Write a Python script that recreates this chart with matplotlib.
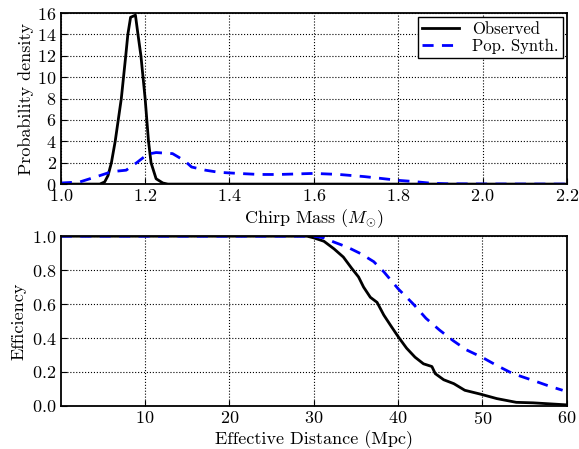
import matplotlib
matplotlib.use("Agg")
import matplotlib.pyplot as plt

plt.rcParams['font.family'] = 'serif'
plt.rcParams['font.serif'] = ['cmr10']
plt.rcParams['mathtext.fontset'] = 'cm'
plt.rcParams['axes.formatter.use_mathtext'] = True

# chirp mass distributions
obs_mass = [1.00, 1.08, 1.0925, 1.104, 1.112, 1.12, 1.129, 1.1435, 1.154, 1.159, 1.1655,
            1.177, 1.183, 1.19, 1.20, 1.208, 1.214, 1.226, 1.242, 1.254, 1.30, 2.2]
obs_dens = [0.0, 0.0, 0.0, 0.2, 0.8, 2.0, 4.0, 8.0, 12.0, 14.0, 15.6,
            15.8, 14.0, 12.0, 8.0, 4.0, 2.0, 0.5, 0.1, 0.0, 0.0, 0.0]

pop_mass = [1.00, 1.045, 1.093, 1.116, 1.13, 1.155, 1.18, 1.206, 1.226, 1.245, 1.265,
            1.28, 1.296, 1.31, 1.343, 1.375, 1.42, 1.47, 1.517, 1.56, 1.60, 1.66,
            1.72, 1.755, 1.80, 1.834, 1.873, 1.913, 2.0, 2.2]
pop_dens = [0.1, 0.2, 0.8, 1.1, 1.2, 1.3, 2.0, 2.8, 2.95, 2.9, 2.85,
            2.5, 2.1, 1.6, 1.3, 1.1, 1.0, 0.9, 0.9, 0.95, 1.0, 0.9,
            0.7, 0.55, 0.35, 0.25, 0.1, 0.03, 0.01, 0.0]

# detection efficiency
obs_dist = [0.0, 28.0, 29.2, 30.0, 31.2, 32.4, 33.5, 34.5, 35.3, 35.9, 36.7, 37.5, 38.3,
            39.2, 40.0, 41.0, 42.0, 43.0, 44.0, 44.4, 45.4, 46.6, 47.9, 49.7, 51.7,
            54.0, 56.0, 58.0, 60.0]
obs_eff = [1.0, 1.0, 1.0, 0.99, 0.97, 0.925, 0.877, 0.81, 0.76, 0.70, 0.64, 0.61, 0.535,
           0.467, 0.408, 0.34, 0.287, 0.248, 0.232, 0.19, 0.154, 0.131, 0.092, 0.07, 0.043,
           0.021, 0.018, 0.012, 0.006]

pop_dist = [0.0, 30.0, 31.2, 32.4, 34.0, 35.6, 37.1, 38.3, 40.0, 41.8, 43.3, 44.9, 46.5,
            48.1, 50.0, 51.7, 53.6, 56.0, 58.0, 59.5]
pop_eff = [1.0, 1.0, 0.99, 0.965, 0.935, 0.896, 0.85, 0.79, 0.69, 0.60, 0.516, 0.447, 0.385,
           0.33, 0.285, 0.238, 0.19, 0.15, 0.115, 0.092]

fig = plt.figure(figsize=(5.79, 4.49), dpi=100)
ax1 = fig.add_axes([0.105, 0.590, 0.874, 0.381])
ax2 = fig.add_axes([0.105, 0.096, 0.874, 0.378])

fs = 13
ax1.plot(obs_mass, obs_dens, color='black', lw=2, label='Observed')
ax1.plot(pop_mass, pop_dens, color='blue', lw=2, ls=(0, (4, 3)), label='Pop. Synth.')
ax1.set_xlim(1.0, 2.2)
ax1.set_ylim(0, 16)
ax1.set_xticks([1.0, 1.2, 1.4, 1.6, 1.8, 2.0, 2.2])
ax1.set_yticks(range(0, 17, 2))
ax1.set_xlabel(r'Chirp Mass ($M_{\odot}$)', fontsize=fs, labelpad=2)
ax1.set_ylabel('Probability density', fontsize=fs, labelpad=2)
leg = ax1.legend(loc='upper right', fontsize=12, fancybox=False, edgecolor='black',
                 framealpha=1, handlelength=2.2, borderpad=0.25, labelspacing=0.1,
                 borderaxespad=0.25)
leg.get_frame().set_linewidth(1.0)

ax2.plot(obs_dist, obs_eff, color='black', lw=2)
ax2.plot(pop_dist, pop_eff, color='blue', lw=2, ls=(0, (4, 3)))
ax2.set_xlim(0, 60)
ax2.set_ylim(0, 1.0)
ax2.set_xticks([10, 20, 30, 40, 50, 60])
ax2.set_yticks([0.0, 0.2, 0.4, 0.6, 0.8, 1.0])
ax2.set_xlabel('Effective Distance (Mpc)', fontsize=fs, labelpad=2)
ax2.set_ylabel('Efficiency', fontsize=fs, labelpad=4)

for ax in (ax1, ax2):
    ax.grid(True, color='black', ls=':', lw=0.8)
    ax.tick_params(labelsize=fs, direction='in', length=4, pad=3)
    for s in ax.spines.values():
        s.set_linewidth(1.3)

fig.savefig('out.png', dpi=100)
